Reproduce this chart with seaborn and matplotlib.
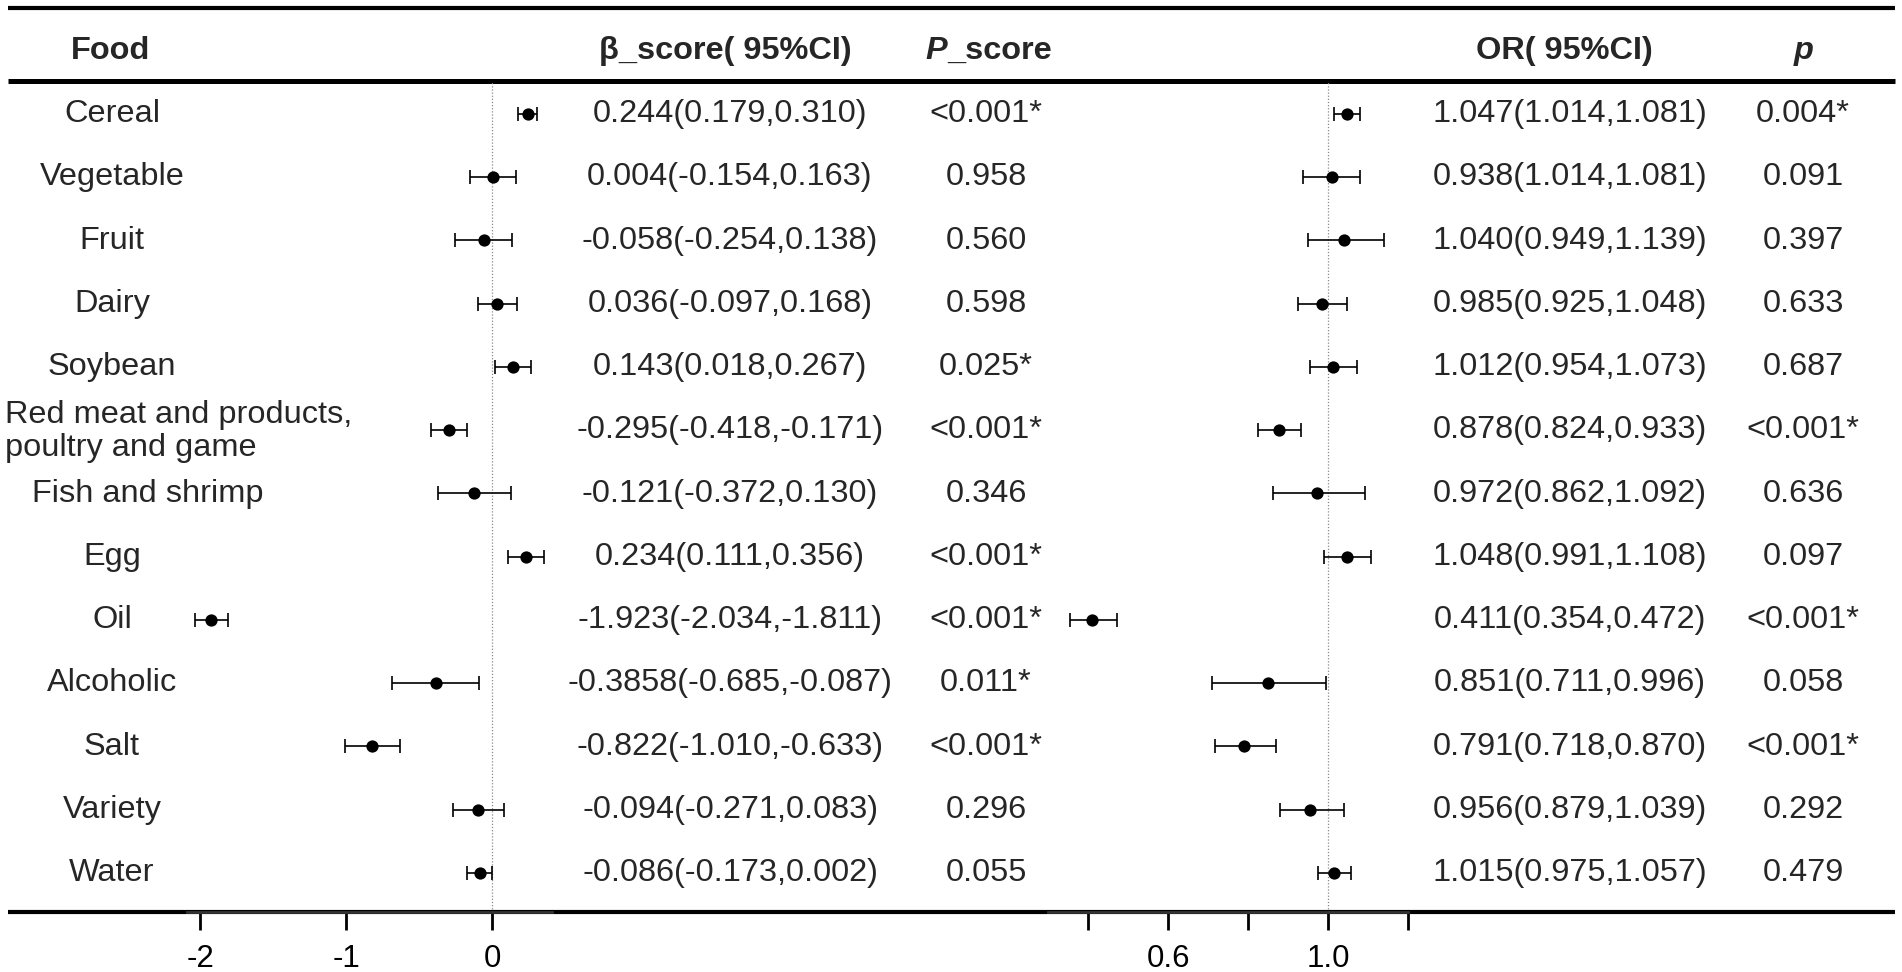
import numpy as np
import pandas as pd
import matplotlib
matplotlib.use("Agg")
import matplotlib.pyplot as plt
import seaborn as sns

# ---------------- data ----------------
foods = ["Cereal", "Vegetable", "Fruit", "Dairy", "Soybean",
         "Red meat and products,\npoultry and game", "Fish and shrimp", "Egg",
         "Oil", "Alcoholic", "Salt", "Variety", "Water"]

beta = [0.244, 0.004, -0.058, 0.036, 0.143, -0.295, -0.121, 0.234, -1.923, -0.386, -0.822, -0.094, -0.086]
beta_lo = [0.179, -0.154, -0.254, -0.097, 0.018, -0.418, -0.372, 0.111, -2.034, -0.685, -1.010, -0.271, -0.173]
beta_hi = [0.310, 0.163, 0.138, 0.168, 0.267, -0.171, 0.130, 0.356, -1.811, -0.087, -0.633, 0.083, 0.002]

beta_text = ["0.244(0.179,0.310)", "0.004(-0.154,0.163)", "-0.058(-0.254,0.138)",
             "0.036(-0.097,0.168)", "0.143(0.018,0.267)", "-0.295(-0.418,-0.171)",
             "-0.121(-0.372,0.130)", "0.234(0.111,0.356)", "-1.923(-2.034,-1.811)",
             "-0.3858(-0.685,-0.087)", "-0.822(-1.010,-0.633)", "-0.094(-0.271,0.083)",
             "-0.086(-0.173,0.002)"]
p_score_text = ["<0.001*", "0.958", "0.560", "0.598", "0.025*", "<0.001*", "0.346",
                "<0.001*", "<0.001*", "0.011*", "<0.001*", "0.296", "0.055"]

or_val = [1.047, 1.009, 1.040, 0.985, 1.012, 0.878, 0.972, 1.048, 0.411, 0.851, 0.791, 0.956, 1.015]
or_lo = [1.014, 0.938, 0.949, 0.925, 0.954, 0.824, 0.862, 0.991, 0.354, 0.711, 0.718, 0.879, 0.975]
or_hi = [1.081, 1.081, 1.139, 1.048, 1.073, 0.933, 1.092, 1.108, 0.472, 0.996, 0.870, 1.039, 1.057]

or_text = ["1.047(1.014,1.081)", "0.938(1.014,1.081)", "1.040(0.949,1.139)",
           "0.985(0.925,1.048)", "1.012(0.954,1.073)", "0.878(0.824,0.933)",
           "0.972(0.862,1.092)", "1.048(0.991,1.108)", "0.411(0.354,0.472)",
           "0.851(0.711,0.996)", "0.791(0.718,0.870)", "0.956(0.879,1.039)",
           "1.015(0.975,1.057)"]
p_text = ["0.004*", "0.091", "0.397", "0.633", "0.687", "<0.001*", "0.636",
          "0.097", "<0.001*", "0.058", "<0.001*", "0.292", "0.479"]

beta_ticks = [-2, -1, 0]
or_ticks = [0.4, 0.6, 0.8, 1.0, 1.2]
or_ticklabels = ["", "0.6", "", "1.0", ""]

# ---------------- layout ----------------
W, H = 1902, 972
ROW0, STEP = 114.0, 63.25
Y_TOP, Y_HEAD, Y_BOT = 8, 81, 912
FS = 23.4

sns.set_theme(style="ticks")
plt.rcParams["font.family"] = ["Liberation Sans", "DejaVu Sans"]
plt.rcParams["axes.unicode_minus"] = False

fig = plt.figure(figsize=(W / 100, H / 100), dpi=100)
fig.patch.set_facecolor("white")

bg = fig.add_axes([0, 0, 1, 1])
bg.set_xlim(0, W)
bg.set_ylim(H, 0)
bg.axis("off")


def px_axes(x0, x1, y0, y1):
    return fig.add_axes([x0 / W, 1 - y1 / H, (x1 - x0) / W, (y1 - y0) / H])


n = len(foods)
rows = ROW0 + STEP * np.arange(n)
df = pd.DataFrame({"food": foods, "row": rows,
                   "beta": beta, "beta_lo": beta_lo, "beta_hi": beta_hi,
                   "or": or_val, "or_lo": or_lo, "or_hi": or_hi})

# table rules
for y, lw in [(Y_TOP, 3.0), (Y_HEAD, 3.6), (Y_BOT, 3.0)]:
    bg.plot([8, 1895], [y, y], color="black", lw=lw, solid_capstyle="butt", zorder=1)


def forest(ax, xcol, locol, hicol, xlim, ref, ticks, ticklabels):
    ax.patch.set_visible(False)
    ax.set_xlim(*xlim)
    ax.set_ylim(Y_BOT, Y_HEAD)
    ax.axvline(ref, color="#8a8a8a", ls=(0, (1, 1.5)), lw=0.9, zorder=1)
    ax.errorbar(df[xcol], df["row"],
                xerr=[df[xcol] - df[locol], df[hicol] - df[xcol]],
                fmt="none", ecolor="black", elinewidth=1.2, capsize=4.8,
                capthick=1.2, zorder=2)
    sns.scatterplot(data=df, x=xcol, y="row", ax=ax, color="black",
                    edgecolor="black", s=78, linewidth=0, zorder=3, legend=False)
    for s in ["top", "left", "right"]:
        ax.spines[s].set_visible(False)
    ax.spines["bottom"].set_color("#333333")
    ax.spines["bottom"].set_linewidth(2.0)
    ax.set_yticks([])
    ax.set_xticks(ticks)
    ax.set_xticklabels(ticklabels)
    ax.tick_params(axis="x", bottom=True, direction="out", length=13, width=2,
                   color="black", pad=10, labelsize=22.5, labelcolor="black")
    ax.set_xlabel("")
    ax.set_ylabel("")


axL = px_axes(187, 552, Y_HEAD, Y_BOT)
forest(axL, "beta", "beta_lo", "beta_hi", (-2.09, 0.41), 0,
       beta_ticks, [str(t) for t in beta_ticks])

axR = px_axes(1048, 1408, Y_HEAD, Y_BOT)
forest(axR, "or", "or_lo", "or_hi", (0.3, 1.2), 1.0, or_ticks, or_ticklabels)

# headers
YH = 51
bg.text(111, YH, "Food", ha="center", va="center", fontsize=FS, weight="bold")
bg.text(725, YH, "β_score( 95%CI)", ha="center", va="center", fontsize=FS, weight="bold")
bg.text(1564, YH, "OR( 95%CI)", ha="center", va="center", fontsize=FS, weight="bold")
bg.text(1804, YH, "p", ha="center", va="center", fontsize=FS, weight="bold", style="italic")

renderer = fig.canvas.get_renderer()
tP = bg.text(0, YH, "P", ha="left", va="center", fontsize=FS, weight="bold", style="italic")
tS = bg.text(0, YH, "_score", ha="left", va="center", fontsize=FS, weight="bold")
wP = tP.get_window_extent(renderer).width
wS = tS.get_window_extent(renderer).width
x0 = 989 - (wP + wS) / 2
tP.set_x(x0)
tS.set_x(x0 + wP)

# rows
for i, r in enumerate(rows):
    name = foods[i]
    if "\n" in name:
        bg.text(5, r + 1, name, ha="left", va="center", fontsize=FS,
                multialignment="left", linespacing=1.15)
    elif name == "Fish and shrimp":
        bg.text(148, r, name, ha="center", va="center", fontsize=FS)
    else:
        bg.text(112, r, name, ha="center", va="center", fontsize=FS)
    bg.text(730, r, beta_text[i], ha="center", va="center", fontsize=FS)
    bg.text(986, r, p_score_text[i], ha="center", va="center", fontsize=FS)
    bg.text(1570, r, or_text[i], ha="center", va="center", fontsize=FS)
    bg.text(1803, r, p_text[i], ha="center", va="center", fontsize=FS)

fig.savefig("out.png", dpi=100, facecolor="white")
